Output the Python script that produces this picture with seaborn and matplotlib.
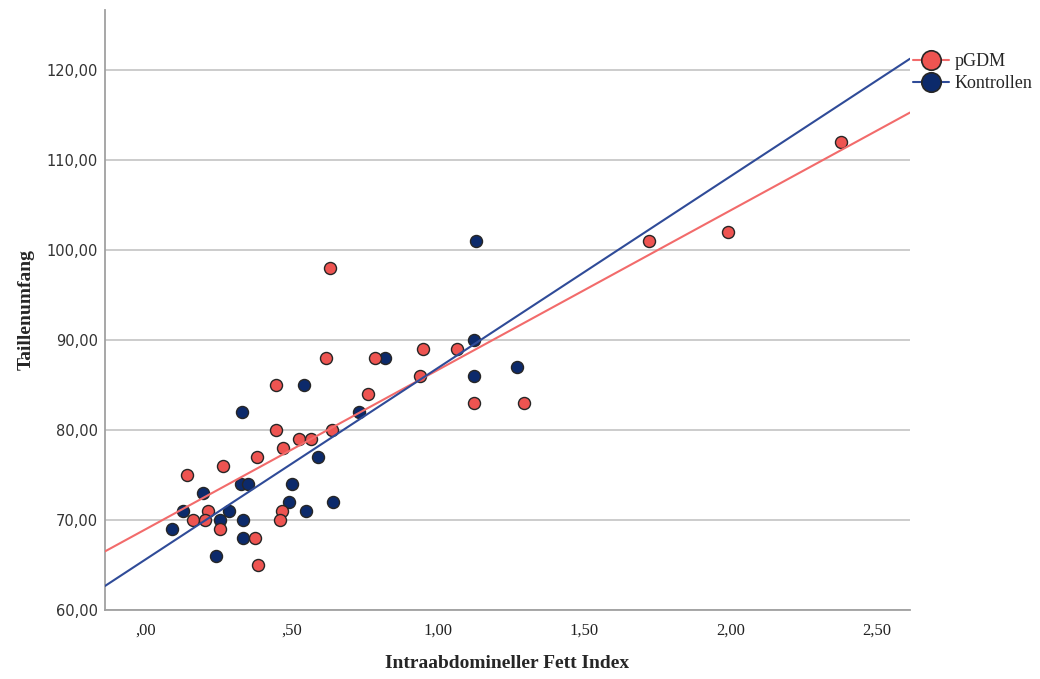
import numpy as np
import pandas as pd
import matplotlib
matplotlib.use("Agg")
import matplotlib.pyplot as plt
from matplotlib.lines import Line2D
from matplotlib.ticker import FuncFormatter, MultipleLocator
import seaborn as sns

# pGDM group (Intraabdomineller Fett Index, Taillenumfang)
pgdm_x = [0.142, 0.267, 0.381, 0.216, 0.165, 0.203, 0.256, 0.376, 0.385, 0.467,
          0.461, 0.446, 0.446, 0.472, 0.617, 0.786, 0.763, 0.638, 0.527, 0.566,
          0.948, 1.065, 0.939, 1.124, 1.294, 0.632, 1.721, 1.992, 2.376]
pgdm_y = [75, 76, 77, 71, 70, 70, 69, 68, 65, 71,
          70, 85, 80, 78, 88, 88, 84, 80, 79, 79,
          89, 89, 86, 83, 83, 98, 101, 102, 112]

# Kontrollen group
ctrl_x = [0.131, 0.093, 0.199, 0.256, 0.287, 0.241, 0.328, 0.353, 0.336, 0.336,
          0.332, 0.592, 0.501, 0.493, 0.550, 0.641, 0.543, 0.820, 0.731, 1.124,
          1.124, 1.269, 1.130]
ctrl_y = [71, 69, 73, 70, 71, 66, 74, 74, 70, 68,
          82, 77, 74, 72, 71, 72, 85, 88, 82, 90,
          86, 87, 101]

groups = ["pGDM", "Kontrollen"]
fill_colors = {"pGDM": "#ee5451", "Kontrollen": "#0c2a6b"}
line_colors = {"pGDM": "#f26b6b", "Kontrollen": "#2f4b98"}

df = pd.concat([
    pd.DataFrame({"x": pgdm_x, "y": pgdm_y, "gruppe": "pGDM"}),
    pd.DataFrame({"x": ctrl_x, "y": ctrl_y, "gruppe": "Kontrollen"}),
], ignore_index=True)

sns.set_style("white")

fig = plt.figure(figsize=(10.4, 6.79), dpi=100)
ax = fig.add_axes([0.101, 0.1016, 0.774, 0.884])
ax.set_xlim(-0.137, 2.613)
ax.set_ylim(60, 126.7)

# gridlines first
ax.yaxis.set_major_locator(MultipleLocator(10))
ax.xaxis.set_major_locator(MultipleLocator(0.5))
ax.grid(axis="y", color="#c8c8c8", linewidth=1.3)
ax.set_axisbelow(True)

# scatter points
for g in ["Kontrollen", "pGDM"]:
    sub = df[df["gruppe"] == g]
    sns.scatterplot(data=sub, x="x", y="y", ax=ax, color=fill_colors[g],
                    s=75, edgecolor="#262626", linewidth=1.0, legend=False, zorder=3)

# fit lines over the whole x range
for g in ["pGDM", "Kontrollen"]:
    sub = df[df["gruppe"] == g]
    sns.regplot(data=sub, x="x", y="y", ax=ax, scatter=False, ci=None,
                truncate=False, color=line_colors[g],
                line_kws={"linewidth": 1.5, "zorder": 4})

ax.set_xlim(-0.137, 2.613)
ax.set_ylim(60, 126.7)

def fmt_y(v, pos):
    return f"{v:.2f}".replace(".", ",")

def fmt_x(v, pos):
    s = f"{v:.2f}".replace(".", ",")
    if s.startswith("0,"):
        s = s[1:]
    return s

ax.yaxis.set_major_formatter(FuncFormatter(fmt_y))
ax.xaxis.set_major_formatter(FuncFormatter(fmt_x))
ax.set_xticks([0, 0.5, 1.0, 1.5, 2.0, 2.5])
ax.set_yticks([60, 70, 80, 90, 100, 110, 120])

ax.tick_params(axis="both", length=0)
ax.tick_params(axis="y", pad=5, labelsize=10.5, labelcolor="#333333")
ax.tick_params(axis="x", pad=9, labelsize=12, labelcolor="#222222")
for lab in ax.get_yticklabels():
    lab.set_fontfamily("DejaVu Sans")
for lab in ax.get_xticklabels():
    lab.set_fontfamily("Liberation Serif")

for side in ["top", "right"]:
    ax.spines[side].set_visible(False)
for side in ["left", "bottom"]:
    ax.spines[side].set_color("#a0a0a0")
    ax.spines[side].set_linewidth(1.3)

ax.set_xlabel("Intraabdomineller Fett Index", fontfamily="Liberation Serif",
              fontweight="bold", fontsize=14, labelpad=12)
ax.set_ylabel("Taillenumfang", fontfamily="Liberation Serif",
              fontweight="bold", fontsize=14, labelpad=9)

handles = [Line2D([0], [0], color=line_colors[g], linewidth=1.5, marker="o",
                  markersize=14, markerfacecolor=fill_colors[g],
                  markeredgecolor="#262626", markeredgewidth=1.2)
           for g in groups]
leg = ax.legend(handles, groups, loc="upper left", bbox_to_anchor=(0.995, 0.94),
                frameon=False, handlelength=2.0, handletextpad=0.3,
                labelspacing=0.3, borderaxespad=0,
                prop={"family": "Liberation Serif", "size": 13})

fig.savefig("out.png", dpi=100)
